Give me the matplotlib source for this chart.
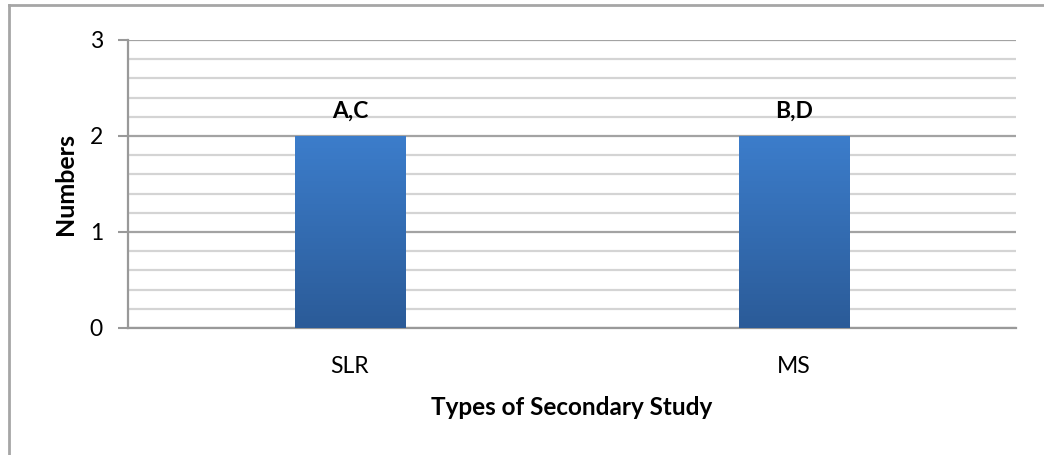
import numpy as np
import matplotlib
matplotlib.use("Agg")
import matplotlib.pyplot as plt
from matplotlib.lines import Line2D
from matplotlib.ticker import MultipleLocator

plt.rcParams['font.family'] = ['Lato', 'DejaVu Sans']

categories = ["SLR", "MS"]
values = [2, 2]
bar_labels = ["A,C", "B,D"]

fig = plt.figure(figsize=(10.44, 4.55), dpi=100)
ax = fig.add_axes([128 / 1044, 1 - 328 / 455, 888 / 1044, 288 / 455])

x = np.arange(len(categories))
bars = ax.bar(x, values, width=0.25, color="#3470b8", zorder=3)

# vertical gradient on each bar
grad = np.linspace(0, 1, 256).reshape(-1, 1)
cmap = matplotlib.colors.LinearSegmentedColormap.from_list("bar", ["#2b5b98", "#3c7dcb"])
for b in bars:
    bx, by = b.get_x(), b.get_y()
    w, h = b.get_width(), b.get_height()
    im = ax.imshow(grad, cmap=cmap, aspect="auto", origin="lower",
                   extent=[bx, bx + w, by, by + h], zorder=4)
    im.set_clip_path(b)

for xi, v, lab in zip(x, values, bar_labels):
    ax.annotate(lab, (xi, v), xytext=(0, 10), textcoords="offset points",
                ha="center", va="bottom", fontsize=16.5, fontweight="bold", color="#000000")

ax.set_xlim(-0.5, len(categories) - 0.5)
ax.set_ylim(0, 3)
ax.yaxis.set_major_locator(MultipleLocator(1))
ax.yaxis.set_minor_locator(MultipleLocator(0.2))
ax.grid(which="major", axis="y", color="#a3a3a3", linewidth=1.6, zorder=1)
ax.grid(which="minor", axis="y", color="#d4d4d4", linewidth=1.6, zorder=1)
ax.set_xticks(x)
ax.set_xticklabels(categories, fontsize=16.5)
ax.tick_params(axis="x", length=0, pad=20)
ax.tick_params(axis="y", which="major", length=7, width=1.5, color="#999999", labelsize=16.5, pad=11)
ax.tick_params(axis="y", which="minor", length=0)

for s in ["top", "right"]:
    ax.spines[s].set_visible(False)
for s in ["left", "bottom"]:
    ax.spines[s].set_color("#999999")
    ax.spines[s].set_linewidth(1.6)

ax.set_xlabel("Types of Secondary Study", fontsize=17.5, fontweight="bold", labelpad=14)
ax.set_ylabel("Numbers", fontsize=18, fontweight="bold", labelpad=9)

# outer chart border (top and left only are visible)
fig.add_artist(Line2D([9 / 1044, 1], [1 - 5 / 455, 1 - 5 / 455], color="#a6a6a6", lw=2, transform=fig.transFigure))
fig.add_artist(Line2D([9 / 1044, 9 / 1044], [0, 1 - 5 / 455], color="#a6a6a6", lw=2, transform=fig.transFigure))

fig.savefig("out.png", dpi=100)
